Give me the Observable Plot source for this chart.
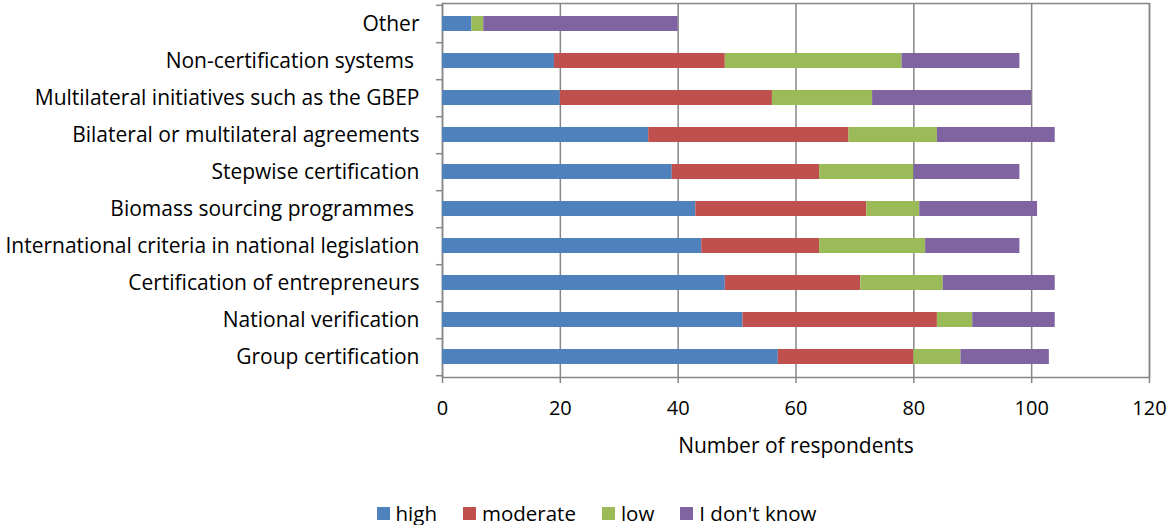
<!DOCTYPE html>
<html>
<head>
<meta charset="utf-8">
<script src="https://cdn.jsdelivr.net/npm/d3@7"></script>
<script src="https://cdn.jsdelivr.net/npm/@observablehq/plot@0.6"></script>
<style>
  html, body { margin: 0; padding: 0; background: #fff; }
  #legend { display: flex; justify-content: center; gap: 26px; font-family: "Open Sans", sans-serif; font-size: 20.5px; line-height: 24px; color: #000; padding-top: 6px; margin-left: 20px; }
  #legend .item { display: flex; align-items: center; }
  #legend .sw { width: 13px; height: 13px; margin-right: 6px; display: inline-block; }
</style>
</head>
<body>
<div id="chart"></div>
<div id="legend"></div>
<script>
const categories = [
  "Other",
  "Non-certification systems\u00a0",
  "Multilateral initiatives such as the GBEP",
  "Bilateral or multilateral agreements",
  "Stepwise certification",
  "Biomass sourcing programmes\u00a0",
  "International criteria in national legislation",
  "Certification of entrepreneurs",
  "National verification",
  "Group certification"
];
const levels = ["high", "moderate", "low", "I don't know"];
const colors = ["#4F81BD", "#C0504D", "#9BBB59", "#8064A2"];
const high      = [5, 19, 20, 35, 39, 43, 44, 48, 51, 57];
const moderate  = [0, 29, 36, 34, 25, 29, 20, 23, 33, 23];
const low       = [2, 30, 17, 15, 16, 9, 18, 14, 6, 8];
const dontKnow  = [33, 20, 27, 20, 18, 20, 16, 19, 14, 15];
const xTicks = [0, 20, 40, 60, 80, 100, 120];
const xLabel = "Number of respondents";

const series = [high, moderate, low, dontKnow];
const data = categories.flatMap((c, i) =>
  levels.map((lvl, j) => ({category: c, level: lvl, value: series[j][i]}))
);

const gray = "#868686";
const plot = Plot.plot({
  width: 1173,
  height: 495,
  marginLeft: 442,
  marginRight: 24,
  marginTop: 3,
  marginBottom: 118,
  style: {fontFamily: "Open Sans, sans-serif", fontSize: "20px", color: "#000", background: "#fff"},
  x: {domain: [0, 120], ticks: xTicks, label: null},
  y: {domain: categories, paddingInner: 0.6, paddingOuter: 0.3, label: null},
  color: {domain: levels, range: colors},
  marks: [
    Plot.gridX(xTicks, {stroke: gray, strokeOpacity: 1, strokeWidth: 1.5}),
    Plot.frame({stroke: gray, strokeWidth: 1.5}),
    Plot.barX(data, {y: "category", x: "value", fill: "level", order: levels}),
    Plot.axisX(xTicks, {tickSize: 6, tickPadding: 17, stroke: gray, strokeWidth: 1.5, fontSize: 20, label: null}),
    Plot.axisY({tickSize: 0, tickPadding: 23, fontSize: 21, label: null}),
    Plot.ruleY(categories, {y: d => d, x1: -1, x2: 0, dy: 18.7, stroke: gray, strokeWidth: 1.5}),
    Plot.ruleY(categories.slice(0, 1), {y: d => d, x1: -1, x2: 0, dy: -18.7, stroke: gray, strokeWidth: 1.5}),
    Plot.text([xLabel], {frameAnchor: "bottom", text: d => d, dy: 75, fontSize: 21, fill: "#000"})
  ]
});
document.getElementById("chart").appendChild(plot);

const legend = document.getElementById("legend");
levels.forEach((lvl, i) => {
  const item = document.createElement("span");
  item.className = "item";
  const sw = document.createElement("span");
  sw.className = "sw";
  sw.style.background = colors[i];
  item.appendChild(sw);
  item.appendChild(document.createTextNode(lvl));
  legend.appendChild(item);
});
</script>
</body>
</html>
